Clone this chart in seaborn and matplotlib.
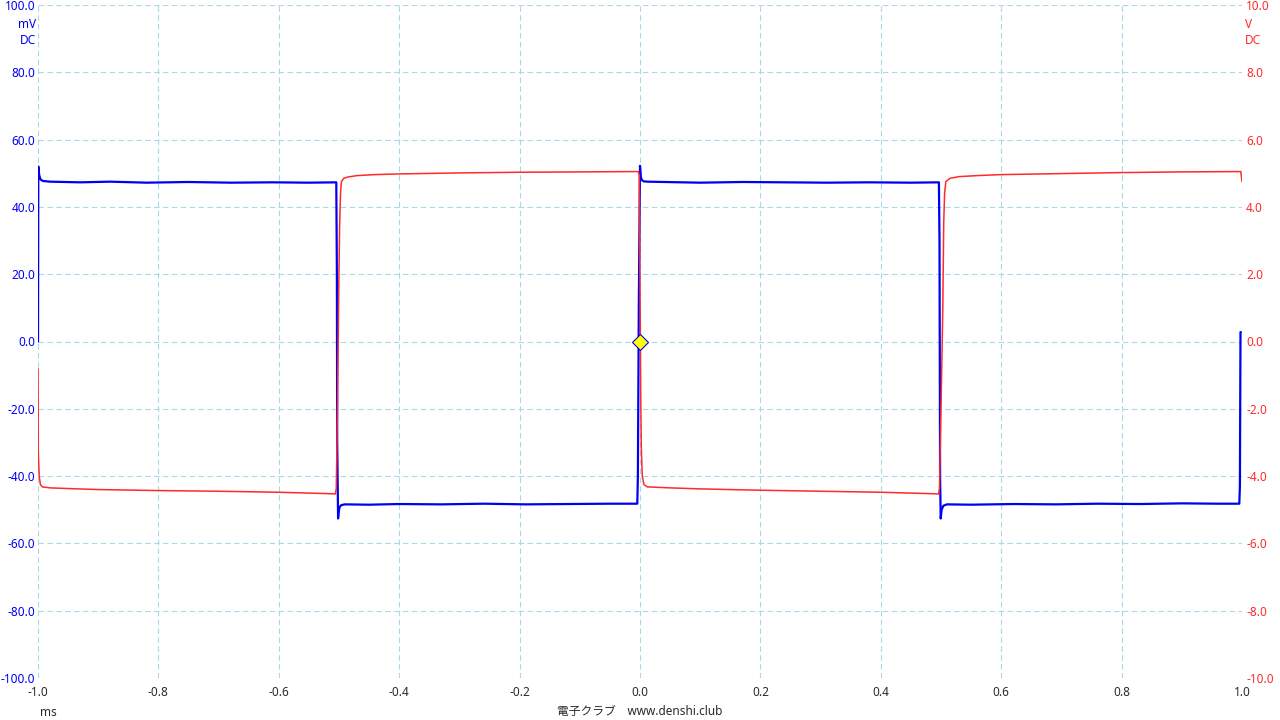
import numpy as np
import pandas as pd
import seaborn as sns
import matplotlib
matplotlib.use('Agg')
import matplotlib.pyplot as plt

# blue trace, left axis (mV) -- breakpoints
t_blue = [-1.000, -0.9995, -0.998, -0.996, -0.992, -0.98, -0.93, -0.88, -0.82, -0.75, -0.68,
          -0.61, -0.55, -0.5045, -0.5035, -0.503, -0.5015, -0.5005, -0.499, -0.496, -0.49,
          -0.45, -0.40, -0.33, -0.26, -0.19, -0.12, -0.05, -0.0045, -0.0035, -0.002,
          0.0, 0.0015, 0.003, 0.006, 0.012, 0.04, 0.10, 0.17, 0.24, 0.31, 0.38, 0.45,
          0.4965, 0.4975, 0.4985, 0.4995, 0.501, 0.504, 0.51, 0.55, 0.62, 0.69, 0.76,
          0.83, 0.90, 0.96, 0.9955, 0.9965, 0.9975, 0.998]
v_blue = [0.0, 52.0, 49.5, 48.2, 47.7, 47.5, 47.3, 47.5, 47.2, 47.4, 47.2,
          47.3, 47.2, 47.3, 20.0, -30.0, -52.6, -50.5, -49.2, -48.6, -48.4,
          -48.5, -48.3, -48.4, -48.2, -48.4, -48.3, -48.2, -48.2, -40.0, 10.0,
          52.2, 48.8, 48.0, 47.6, 47.5, 47.4, 47.2, 47.4, 47.3, 47.2, 47.3, 47.2,
          47.3, 30.0, -40.0, -52.6, -50.0, -48.8, -48.4, -48.5, -48.3, -48.4, -48.2,
          -48.3, -48.1, -48.2, -48.2, -43.0, 2.8, 2.8]

# red trace, right axis (V)
t_red = [-1.000, -0.9995, -0.998, -0.996, -0.993, -0.98, -0.95, -0.90, -0.80, -0.70,
         -0.60, -0.52, -0.506, -0.5045, -0.5025, -0.5005, -0.499, -0.4975, -0.496, -0.492,
         -0.485, -0.47, -0.44, -0.40, -0.30, -0.20, -0.10, -0.003, -0.0012, 0.0012,
         0.0022, 0.0038, 0.0065, 0.012, 0.05, 0.10, 0.20, 0.30, 0.40, 0.48, 0.496,
         0.4975, 0.500, 0.503, 0.5045, 0.506, 0.508, 0.515, 0.53, 0.56, 0.60, 0.70,
         0.80, 0.90, 0.998, 1.000]
v_red = [-0.8, -3.3, -4.0, -4.25, -4.32, -4.35, -4.37, -4.40, -4.43, -4.45,
         -4.48, -4.52, -4.53, -4.36, -2.0, 1.5, 3.4, 4.4, 4.75, 4.85,
         4.89, 4.93, 4.96, 4.98, 5.01, 5.03, 5.04, 5.05, 4.95, -1.6,
         -3.2, -4.0, -4.25, -4.32, -4.35, -4.38, -4.42, -4.45, -4.48, -4.52, -4.53,
         -4.36, -2.0, 1.0, 3.5, 4.4, 4.75, 4.85, 4.9, 4.93, 4.96, 4.99,
         5.02, 5.04, 5.05, 4.75]

x_ticks = [-1.0, -0.8, -0.6, -0.4, -0.2, 0.0, 0.2, 0.4, 0.6, 0.8, 1.0]
mv_ticks = [-100, -80, -60, -40, -20, 0, 20, 40, 60, 80, 100]
v_ticks = [-10, -8, -6, -4, -2, 0, 2, 4, 6, 8, 10]

blue = '#0000f5'
red = '#ff2a2a'
grid_col = '#a9d8e6'

sns.set_style('white')
plt.rcParams['font.family'] = ['Noto Sans', 'Noto Sans CJK JP', 'DejaVu Sans']
plt.rcParams['axes.unicode_minus'] = False

df_b = pd.DataFrame({'t': t_blue, 'v': v_blue})
df_r = pd.DataFrame({'t': t_red, 'v': v_red})

fig = plt.figure(figsize=(12.8, 7.2), dpi=100)
ax = fig.add_axes([38 / 1280, 1 - 678 / 720, 1204 / 1280, 673 / 720])
ax2 = ax.twinx()

sns.lineplot(data=df_b, x='t', y='v', ax=ax, color=blue, lw=1.6,
             estimator=None, sort=False)
sns.lineplot(data=df_r, x='t', y='v', ax=ax2, color=red, lw=1.1,
             estimator=None, sort=False)

# trigger marker
ax2.plot([0], [0], marker='D', ms=8, mfc='#ffff00', mec=blue, mew=0.8,
         zorder=10, clip_on=False)

ax.set_xlim(-1.0, 1.0)
ax.set_ylim(-100, 100)
ax2.set_ylim(-10, 10)

ax.set_xticks(x_ticks)
ax.set_xticklabels([f'{x:.1f}' for x in x_ticks], color='#2a2a2a', fontsize=8.5)
ax.set_yticks(mv_ticks)
ax.set_yticklabels([f'{y:.1f}' for y in mv_ticks], color=blue, fontsize=8.5)
ax2.set_yticks(v_ticks)
ax2.set_yticklabels([f'{y:.1f}' for y in v_ticks], color=red, fontsize=8.5)

ax.tick_params(axis='x', length=0, pad=6)
ax.tick_params(axis='y', length=0, pad=2)
ax2.tick_params(axis='y', length=0, pad=3)
ax.set_xlabel('')
ax.set_ylabel('')
ax2.set_ylabel('')

ax.grid(True, color=grid_col, ls=(0, (5, 3)), lw=0.8)
for a in (ax, ax2):
    for s in a.spines.values():
        s.set_visible(False)

# unit labels
fig.text(36 / 1280, 1 - 24 / 720, 'mV', color=blue, fontsize=8.5, ha='right', va='center')
fig.text(36 / 1280, 1 - 41 / 720, 'DC', color=blue, fontsize=8.5, ha='right', va='center')
fig.text(1245 / 1280, 1 - 24 / 720, 'V', color=red, fontsize=8.5, ha='left', va='center')
fig.text(1245 / 1280, 1 - 41 / 720, 'DC', color=red, fontsize=8.5, ha='left', va='center')
fig.text(40 / 1280, 1 - 712 / 720, 'ms', color='#2a2a2a', fontsize=8.5, ha='left', va='center')
fig.text(640 / 1280, 1 - 711 / 720, '電子クラブ\u3000www.denshi.club', color='#2a2a2a',
         fontsize=8.5, ha='center', va='center')

fig.savefig('out.png', dpi=100)
